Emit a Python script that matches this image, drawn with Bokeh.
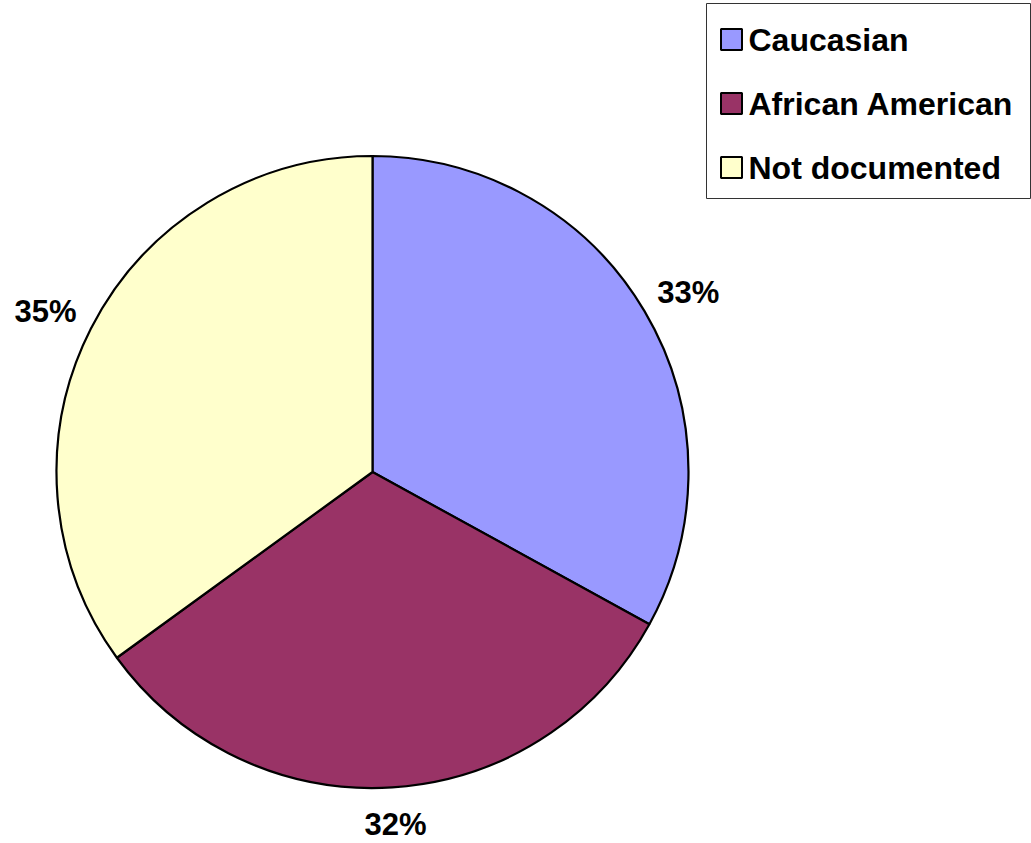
import math
from bokeh.plotting import figure
from bokeh.models import Range1d, ColumnDataSource
from bokeh.core.properties import value
from bokeh.embed import file_html
from bokeh.resources import INLINE

# ---- data ----
categories = ["Caucasian", "African American", "Not documented"]
percents = [33, 32, 35]
colors = ["#9999FF", "#993366", "#FFFFCC"]

W, H = 1031, 843
CX, CY_PX, R = 372, 471.5, 316
LABEL_GAP = 26          # distance of label box edge from pie edge
LABEL_HALF_W, LABEL_HALF_H = 25, 11
FONT = "Liberation Sans"

p = figure(width=W, height=H, output_backend="svg", toolbar_location=None,
           x_range=Range1d(0, W), y_range=Range1d(0, H), min_border=0)
p.axis.visible = False
p.grid.visible = False
p.outline_line_color = None
p.background_fill_color = "white"
p.border_fill_color = "white"

def py(ypx):
    return H - ypx

total = float(sum(percents))
starts, ends, mids = [], [], []
acc = 0.0
for v in percents:
    a0 = math.pi / 2 - 2 * math.pi * acc / total
    acc += v
    a1 = math.pi / 2 - 2 * math.pi * acc / total
    starts.append(a0)
    ends.append(a1)
    mids.append((a0 + a1) / 2)

src = ColumnDataSource(dict(start=starts, end=ends, color=colors,
                            x=[CX] * 3, y=[py(CY_PX)] * 3))
p.wedge(x="x", y="y", radius=R, start_angle="start", end_angle="end",
        direction="clock", fill_color="color", line_color="black",
        line_width=2.2, source=src)

rr = R + LABEL_GAP
lab = ColumnDataSource(dict(
    x=[CX + (rr + LABEL_HALF_W) * math.cos(m) for m in mids],
    y=[py(CY_PX) + (rr + LABEL_HALF_H) * math.sin(m) for m in mids],
    t=[f"{v}%" for v in percents]))
p.text(x="x", y="y", text="t", source=lab, text_font=value(FONT),
       text_font_style="bold", text_font_size="31px", text_color="black",
       text_align="center", text_baseline="middle")

# legend box
p.quad(left=706, right=1030, top=py(3), bottom=py(198), fill_color="white",
       line_color="#333333", line_width=1)
leg_y = [py(39), py(103), py(167)]
p.rect(x=[731] * 3, y=leg_y, width=21, height=21, fill_color=colors,
       line_color="black", line_width=2)
p.text(x=[748] * 3, y=leg_y, text=categories, text_font=value(FONT),
       text_font_style="bold", text_font_size="32px", text_color="black",
       text_align="left", text_baseline="middle")

open("out.html", "w").write(file_html(p, INLINE))
